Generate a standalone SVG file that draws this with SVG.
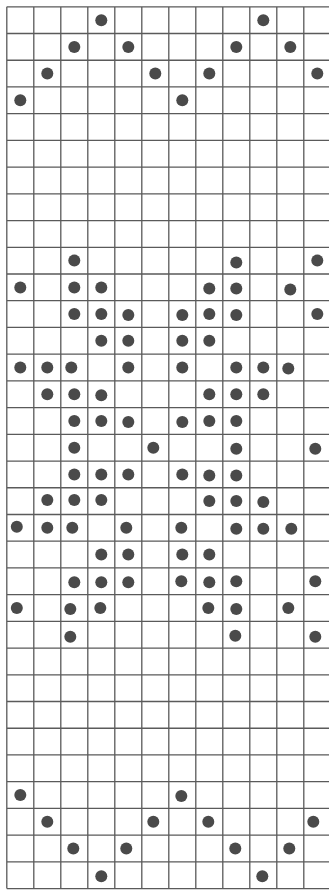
<svg xmlns="http://www.w3.org/2000/svg" width="329" height="890" viewBox="0 0 329 890">
<style>
.grid{fill:none;stroke:#5a5a5a;stroke-width:1.3}
.dot{fill:#4a4a4a}
</style>
<rect width="329" height="890" fill="#fff"/>
<g id="grid">
<path class="grid" d="M6.8 6.8V888.6M33.8 6.8V888.6M60.8 6.8V888.6M87.8 6.8V888.6M114.8 6.8V888.6M141.8 6.8V888.6M168.8 6.8V888.6M195.8 6.8V888.6M222.8 6.8V888.6M249.8 6.8V888.6M276.8 6.8V888.6M303.8 6.8V888.6
M6.8 6.8H329M6.8 33.52H329M6.8 60.24H329M6.8 86.96H329M6.8 113.68H329M6.8 140.4H329M6.8 167.12H329M6.8 193.84H329M6.8 220.56H329M6.8 247.28H329M6.8 274H329M6.8 300.72H329M6.8 327.44H329M6.8 354.16H329M6.8 380.88H329M6.8 407.6H329M6.8 434.32H329M6.8 461.04H329M6.8 487.76H329M6.8 514.48H329M6.8 541.2H329M6.8 567.92H329M6.8 594.64H329M6.8 621.36H329M6.8 648.08H329M6.8 674.8H329M6.8 701.52H329M6.8 728.24H329M6.8 754.96H329M6.8 781.68H329M6.8 808.4H329M6.8 835.12H329M6.8 861.84H329M6.8 888.56H329"/>
</g>
<g id="dots" class="dot">
<!-- row 0 -->
<circle cx="101.3" cy="20.2" r="6"/><circle cx="263.3" cy="20.2" r="6"/>
<!-- row 1 -->
<circle cx="74.3" cy="46.9" r="6"/><circle cx="128.3" cy="46.9" r="6"/><circle cx="236.3" cy="46.9" r="6"/><circle cx="290.3" cy="46.9" r="6"/>
<!-- row 2 -->
<circle cx="47.3" cy="73.6" r="6"/><circle cx="155.3" cy="73.6" r="6"/><circle cx="209.3" cy="73.6" r="6"/><circle cx="317.3" cy="73.6" r="6"/>
<!-- row 3 -->
<circle cx="20.3" cy="100.3" r="6"/><circle cx="182.3" cy="100.3" r="6"/>
<!-- row 9 -->
<circle cx="74.3" cy="260.6" r="6"/><circle cx="236.3" cy="262.6" r="6"/><circle cx="317.3" cy="260.6" r="6"/>
<!-- row 10 -->
<circle cx="20.3" cy="287.4" r="6"/><circle cx="74.3" cy="287.4" r="6"/><circle cx="101.3" cy="287.4" r="6"/><circle cx="209.3" cy="288.4" r="6"/><circle cx="236.3" cy="288.4" r="6"/><circle cx="290.3" cy="289.4" r="6"/>
<!-- row 11 -->
<circle cx="74.3" cy="314.1" r="6"/><circle cx="101.3" cy="314.1" r="6"/><circle cx="128.3" cy="315.1" r="6"/><circle cx="182.3" cy="315.1" r="6"/><circle cx="209.3" cy="314.1" r="6"/><circle cx="236.3" cy="315.1" r="6"/><circle cx="317.3" cy="314.1" r="6"/>
<!-- row 12 -->
<circle cx="101.3" cy="340.8" r="6"/><circle cx="128.3" cy="340.8" r="6"/><circle cx="182.3" cy="340.8" r="6"/><circle cx="209.3" cy="340.8" r="6"/>
<!-- row 13 -->
<circle cx="20.3" cy="367.5" r="6"/><circle cx="47.3" cy="367.5" r="6"/><circle cx="71.3" cy="367.5" r="6"/><circle cx="128.3" cy="367.5" r="6"/><circle cx="182.3" cy="367.5" r="6"/><circle cx="236.3" cy="367.5" r="6"/><circle cx="263.3" cy="367.5" r="6"/><circle cx="288.3" cy="368.5" r="6"/>
<!-- row 14 -->
<circle cx="47.3" cy="394.2" r="6"/><circle cx="74.3" cy="394.2" r="6"/><circle cx="101.3" cy="395.2" r="6"/><circle cx="209.3" cy="394.2" r="6"/><circle cx="236.3" cy="394.2" r="6"/><circle cx="263.3" cy="394.2" r="6"/>
<!-- row 15 -->
<circle cx="74.3" cy="421" r="6"/><circle cx="101.3" cy="421" r="6"/><circle cx="128.3" cy="422" r="6"/><circle cx="182.3" cy="422" r="6"/><circle cx="209.3" cy="421" r="6"/><circle cx="236.3" cy="421" r="6"/>
<!-- row 16 -->
<circle cx="74.3" cy="447.7" r="6"/><circle cx="153.3" cy="447.7" r="6"/><circle cx="236.3" cy="448.7" r="6"/><circle cx="315.3" cy="448.7" r="6"/>
<!-- row 17 -->
<circle cx="74.3" cy="474.4" r="6"/><circle cx="101.3" cy="474.4" r="6"/><circle cx="128.3" cy="474.4" r="6"/><circle cx="182.3" cy="474.4" r="6"/><circle cx="209.3" cy="475.4" r="6"/><circle cx="236.3" cy="475.4" r="6"/>
<!-- row 18 -->
<circle cx="47.3" cy="500.1" r="6"/><circle cx="74.3" cy="500.1" r="6"/><circle cx="101.3" cy="500.1" r="6"/><circle cx="209.3" cy="501.1" r="6"/><circle cx="236.3" cy="501.1" r="6"/><circle cx="263.3" cy="502.1" r="6"/>
<!-- row 19 -->
<circle cx="16.8" cy="526.8" r="6"/><circle cx="47.3" cy="527.8" r="6"/><circle cx="72.3" cy="527.8" r="6"/><circle cx="126.3" cy="527.8" r="6"/><circle cx="181.3" cy="527.8" r="6"/><circle cx="236.3" cy="528.8" r="6"/><circle cx="263.3" cy="528.8" r="6"/><circle cx="291.3" cy="528.8" r="6"/>
<!-- row 20 -->
<circle cx="101.3" cy="554.6" r="6"/><circle cx="128.3" cy="554.6" r="6"/><circle cx="182.3" cy="554.6" r="6"/><circle cx="209.3" cy="554.6" r="6"/>
<!-- row 21 -->
<circle cx="74.3" cy="582.3" r="6"/><circle cx="101.3" cy="582.3" r="6"/><circle cx="128.3" cy="582.3" r="6"/><circle cx="181.3" cy="581.3" r="6"/><circle cx="209.3" cy="582.3" r="6"/><circle cx="236.3" cy="581.3" r="6"/><circle cx="315.3" cy="581.3" r="6"/>
<!-- row 22 -->
<circle cx="16.8" cy="608" r="6"/><circle cx="70.3" cy="609" r="6"/><circle cx="100.3" cy="608" r="6"/><circle cx="208.3" cy="608" r="6"/><circle cx="236.3" cy="609" r="6"/><circle cx="288.3" cy="608" r="6"/>
<!-- row 23 -->
<circle cx="70.3" cy="636.7" r="6"/><circle cx="235.3" cy="635.7" r="6"/><circle cx="315.3" cy="636.7" r="6"/>
<!-- row 29 -->
<circle cx="20.3" cy="795" r="6"/><circle cx="181.3" cy="796" r="6"/>
<!-- row 30 -->
<circle cx="47.3" cy="821.8" r="6"/><circle cx="153.3" cy="821.8" r="6"/><circle cx="208.3" cy="821.8" r="6"/><circle cx="313.3" cy="821.8" r="6"/>
<!-- row 31 -->
<circle cx="73.3" cy="848.5" r="6"/><circle cx="126.3" cy="848.5" r="6"/><circle cx="235.3" cy="848.5" r="6"/><circle cx="289.3" cy="848.5" r="6"/>
<!-- row 32 -->
<circle cx="101.3" cy="876.2" r="6"/><circle cx="262.3" cy="876.2" r="6"/>
</g>
</svg>
